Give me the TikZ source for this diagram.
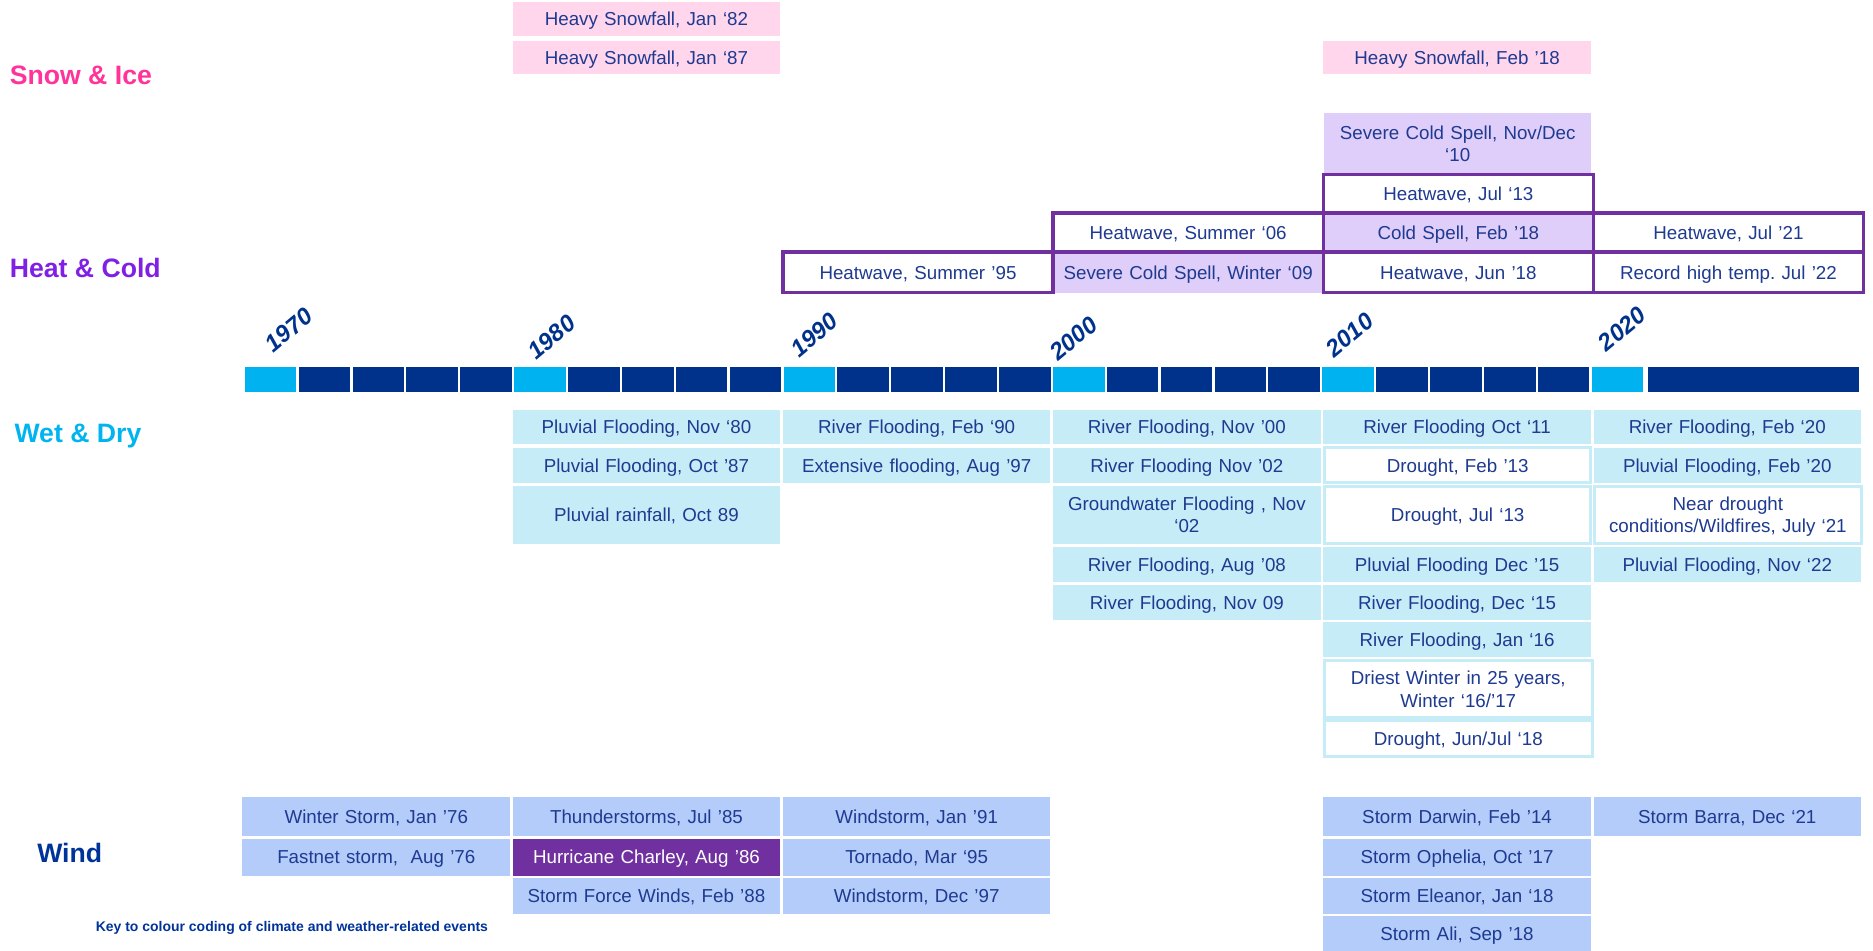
\documentclass[tikz,border=0pt]{standalone}
\usepackage{fontspec}
\setmainfont{Liberation Sans}
\frenchspacing
\definecolor{txtblue}{RGB}{30,58,145}
\definecolor{pinkfill}{RGB}{255,214,236}
\definecolor{purpfill}{RGB}{224,206,250}
\definecolor{purpline}{RGB}{112,48,160}
\definecolor{wetfill}{RGB}{198,236,248}
\definecolor{windfill}{RGB}{180,204,250}
\definecolor{tldark}{RGB}{0,50,140}
\definecolor{tllight}{RGB}{0,178,240}
\definecolor{snowcol}{RGB}{255,51,153}
\definecolor{heatcol}{RGB}{128,32,228}
\definecolor{wetcol}{RGB}{0,180,240}
\definecolor{windcol}{RGB}{0,51,153}
\newcommand\evfont{\fontsize{15.7}{18.5}\selectfont\hyphenpenalty=10000 \frenchspacing}
\newcommand\evbox[7]{%
  \pgfmathsetmacro\evbw{#5-#3}\pgfmathsetmacro\evbh{#6-#4}\pgfmathsetmacro\evtw{#5-#3-2}%
  \node[#2, minimum width=\evbw pt, minimum height=\evbh pt, text width=\evtw pt] (#1) at ({(#3+#5)/2},{(#4+#6)/2}) {#7};}
\tikzset{
  ev/.style={inner sep=0pt, outer sep=0pt, align=center, font=\evfont, text=txtblue, text height=11.3pt, text depth=0pt},
  twolines/.style={text depth=18.5pt},
  pinkb/.style={ev, fill=pinkfill},
  purpf/.style={ev, fill=purpfill},
  heatb/.style={ev, fill=white, draw=purpline, line width=3pt},
  heatfb/.style={heatb, fill=purpfill},
  wetb/.style={ev, fill=wetfill},
  dryb/.style={ev, fill=white, draw=wetfill, line width=2.5pt},
  windb/.style={ev, fill=windfill},
  hurr/.style={ev, fill=purpline, text=white},
  catlab/.style={anchor=west, inner sep=0pt, font=\fontsize{22.3}{26}\selectfont\bfseries},
  yearlab/.style={anchor=base west, inner sep=0pt, rotate=40, text=tldark, font=\fontsize{20}{24}\selectfont\bfseries\itshape},
}
\begin{document}
\begin{tikzpicture}[x=1pt,y=-1pt]
\useasboundingbox (0,0) rectangle (1568,796);
% ---------- category labels
\node[catlab, text=snowcol] (snow) at (8,63) {Snow \& Ice};
\node[catlab, text=heatcol] (heat) at (8,224) {Heat \& Cold};
\node[catlab, text=wetcol] (wet) at (12,365) {Wet \& Dry};
\node[catlab, text=windcol] (wind) at (31,714) {Wind};
% ---------- Snow & Ice
\evbox{s82}{pinkb}{429.2}{2}{653.2}{30}{Heavy Snowfall, Jan ‘82}
\evbox{s87}{pinkb}{429.2}{34}{653.2}{62}{Heavy Snowfall, Jan ‘87}
\evbox{s18}{pinkb}{1107.8}{34}{1331.8}{62}{Heavy Snowfall, Feb ’18}
% ---------- Heat & Cold
\evbox{c10}{purpf,twolines}{1108.8}{95}{1331.8}{145}{Severe Cold Spell, Nov/Dec\\‘10}
\evbox{w09}{purpf}{881.6}{211}{1107.8}{245}{Severe Cold Spell, Winter ‘09}
\evbox{h13}{heatb}{1107.8}{146}{1334}{178}{Heatwave, Jul ‘13}
\evbox{h06}{heatb}{881.6}{178.5}{1107.8}{211}{Heatwave, Summer ‘06}
\evbox{c18}{heatfb}{1107.8}{178.5}{1334}{211}{Cold Spell, Feb ’18}
\evbox{h21}{heatb}{1334}{178.5}{1560}{211}{Heatwave, Jul ’21}
\evbox{h95}{heatb}{655.4}{211}{881.6}{245}{Heatwave, Summer ’95}
\draw[purpline, line width=3pt] (h95.north east) -- (h95.south east);
\evbox{h18}{heatb}{1107.8}{211}{1334}{245}{Heatwave, Jun ’18}
\evbox{h22}{heatb}{1334}{211}{1560}{245}{Record high temp. Jul ’22}
% ---------- timeline
\foreach \j in {0,...,25}{
  \pgfmathtruncatemacro\m{mod(\j,5)}
  \ifnum\m=0 \def\tlc{tllight}\else\def\tlc{tldark}\fi
  \fill[\tlc] ({205+45.1*\j},307) rectangle ({205+45.1*\j+43.2},328);
}
\fill[tldark] (1380,307) rectangle (1556,328);
\node[yearlab] (y1970) at (229,296) {1970};
\node[yearlab] (y1980) at (449,302) {1980};
\node[yearlab] (y1990) at (669,300) {1990};
\node[yearlab] (y2000) at (886,303) {2000};
\node[yearlab] (y2010) at (1117,300) {2010};
\node[yearlab] (y2020) at (1345,295) {2020};
% ---------- Wet & Dry
\evbox{p80}{wetb}{429.2}{343}{653.2}{372}{Pluvial Flooding, Nov ‘80}
\evbox{r90}{wetb}{655.4}{343}{879.4}{372}{River Flooding, Feb ‘90}
\evbox{r00}{wetb}{881.6}{343}{1105.6}{372}{River Flooding, Nov ’00}
\evbox{r11}{wetb}{1107.8}{343}{1331.8}{372}{River Flooding Oct ‘11}
\evbox{r20}{wetb}{1334}{343}{1558}{372}{River Flooding, Feb ‘20}
\evbox{p87}{wetb}{429.2}{375}{653.2}{404}{Pluvial Flooding, Oct ’87}
\evbox{e97}{wetb}{655.4}{375}{879.4}{404}{Extensive flooding, Aug ’97}
\evbox{r02}{wetb}{881.6}{375}{1105.6}{404}{River Flooding Nov ’02}
\evbox{d13}{dryb}{1108.8}{375}{1331.8}{404}{Drought, Feb ’13}
\evbox{p20}{wetb}{1334}{375}{1558}{404}{Pluvial Flooding, Feb ’20}
\evbox{p89}{wetb}{429.2}{407}{653.2}{455}{Pluvial rainfall, Oct 89}
\evbox{g02}{wetb,twolines}{881.6}{407}{1105.6}{455}{Groundwater Flooding , Nov\\‘02}
\evbox{d13b}{dryb}{1108.8}{407.5}{1331.8}{455}{Drought, Jul ‘13}
\evbox{n21}{dryb,twolines}{1335}{407.5}{1558}{455}{Near drought\\conditions/Wildfires, July ‘21}
\evbox{r08}{wetb}{881.6}{458}{1105.6}{487}{River Flooding, Aug ’08}
\evbox{p15}{wetb}{1107.8}{458}{1331.8}{487}{Pluvial Flooding Dec ’15}
\evbox{p22}{wetb}{1334}{458}{1558}{487}{Pluvial Flooding, Nov ‘22}
\evbox{r09}{wetb}{881.6}{490}{1105.6}{519}{River Flooding, Nov 09}
\evbox{r15}{wetb}{1107.8}{490}{1331.8}{519}{River Flooding, Dec ‘15}
\evbox{r16}{wetb}{1107.8}{521}{1331.8}{550}{River Flooding, Jan ‘16}
\evbox{dw17}{dryb,twolines}{1108.8}{553}{1332.8}{601}{Driest Winter in 25 years,\\Winter ‘16/’17}
\evbox{d18}{dryb}{1108.8}{603.5}{1332.8}{633.5}{Drought, Jun/Jul ‘18}
% ---------- Wind
\evbox{ws76}{windb}{203}{667}{427}{700}{Winter Storm, Jan ’76}
\evbox{t85}{windb}{429.2}{667}{653.2}{700}{Thunderstorms, Jul ’85}
\evbox{ws91}{windb}{655.4}{667}{879.4}{700}{Windstorm, Jan ’91}
\evbox{sd14}{windb}{1107.8}{667}{1331.8}{700}{Storm Darwin, Feb ’14}
\evbox{sb21}{windb}{1334}{667}{1558}{700}{Storm Barra, Dec ‘21}
\evbox{fs76}{windb}{203}{702}{427}{733}{Fastnet storm,\ \ Aug ’76}
\evbox{hc86}{hurr}{429.2}{702}{653.2}{733}{Hurricane Charley, Aug ’86}
\evbox{tm95}{windb}{655.4}{702}{879.4}{733}{Tornado, Mar ‘95}
\evbox{so17}{windb}{1107.8}{702}{1331.8}{733}{Storm Ophelia, Oct ’17}
\evbox{sf88}{windb}{429.2}{735}{653.2}{765}{Storm Force Winds, Feb ’88}
\evbox{wd97}{windb}{655.4}{735}{879.4}{765}{Windstorm, Dec ’97}
\evbox{se18}{windb}{1107.8}{735}{1331.8}{765}{Storm Eleanor, Jan ‘18}
\evbox{sa18}{windb}{1107.8}{767}{1331.8}{796}{Storm Ali, Sep ’18}
% ---------- key
\node[anchor=west, inner sep=0pt, text=windcol, font=\fontsize{11.7}{14}\selectfont\bfseries] (key) at (80,777) {Key to colour coding of climate and weather-related events};
\end{tikzpicture}
\end{document}
